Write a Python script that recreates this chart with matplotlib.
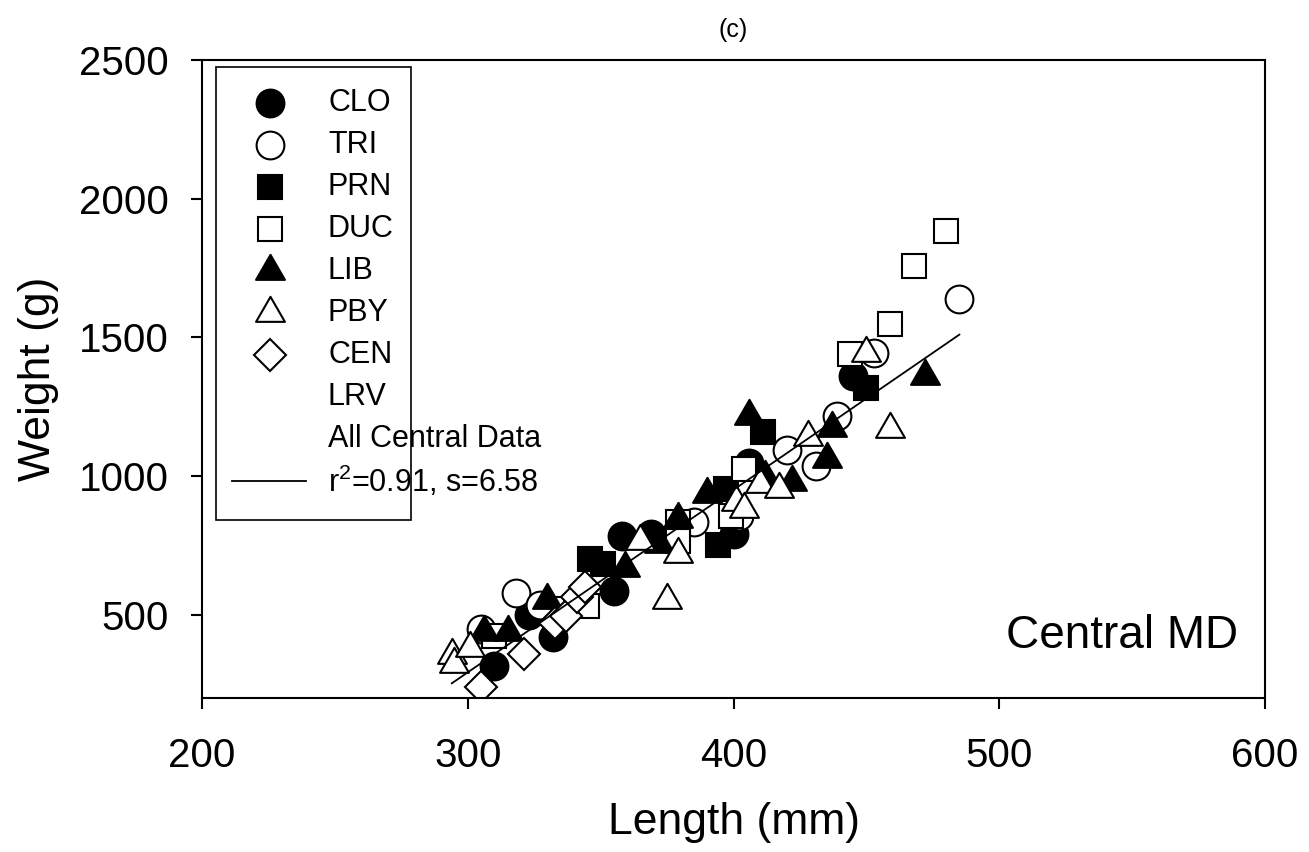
import matplotlib
matplotlib.use("Agg")
import matplotlib.pyplot as plt
from matplotlib.path import Path
from matplotlib.patches import Rectangle

plt.rcParams['font.family'] = ['Liberation Sans', 'DejaVu Sans']
plt.rcParams['mathtext.fontset'] = 'custom'
plt.rcParams['mathtext.rm'] = 'Liberation Sans'
plt.rcParams['mathtext.default'] = 'regular'

# length (mm) / weight (g) for each site
clo_len = [310, 323, 332, 355, 358, 369, 400, 406, 445]
clo_wt = [315, 500, 420, 585, 785, 791, 792, 1046, 1361]

tri_len = [305, 318, 327, 385, 402, 420, 431, 439, 453, 485]
tri_wt = [447, 579, 536, 833, 857, 1095, 1037, 1217, 1445, 1640]

prn_len = [346, 351, 394, 397, 411, 450]
prn_wt = [701, 682, 750, 953, 1160, 1319]

duc_len = [310, 336, 345, 379, 379, 399, 404, 444, 459, 468, 480]
duc_wt = [423, 522, 530, 833, 767, 857, 1025, 1439, 1547, 1757, 1882]

lib_len = [306, 315, 330, 359, 372, 379, 390, 406, 412, 422, 435, 437, 472]
lib_wt = [438, 438, 553, 670, 755, 845, 935, 1215, 995, 980, 1061, 1175, 1361]

pby_len = [294, 295, 301, 365, 375, 379, 401, 404, 410, 417, 428, 450, 459]
pby_wt = [354, 324, 380, 767, 555, 719, 906, 881, 970, 955, 1142, 1445, 1169]

cen_len = [305, 321, 333, 337, 341, 344]
cen_wt = [238, 360, 470, 495, 565, 600]

# all central data regression
fit_len = [294, 485]
fit_wt = [253, 1510]

sites = ['CLO', 'TRI', 'PRN', 'DUC', 'LIB', 'PBY', 'CEN', 'LRV', 'All Central Data']

tri_path = Path([(0, 0.577), (-0.5, -0.289), (0.5, -0.289), (0, 0.577)],
                [Path.MOVETO, Path.LINETO, Path.LINETO, Path.CLOSEPOLY])

styles = [
    dict(marker='o', ms=20, mfc='black'),
    dict(marker='o', ms=20, mfc='white'),
    dict(marker='s', ms=17.5, mfc='black'),
    dict(marker='s', ms=17.5, mfc='white'),
    dict(marker=tri_path, ms=24, mfc='black'),
    dict(marker=tri_path, ms=24, mfc='white'),
    dict(marker='D', ms=16.5, mfc='white'),
]
data = [(clo_len, clo_wt), (tri_len, tri_wt), (prn_len, prn_wt), (duc_len, duc_wt),
        (lib_len, lib_wt), (pby_len, pby_wt), (cen_len, cen_wt)]

fig = plt.figure(figsize=(13.09, 8.52), dpi=100)
ax = fig.add_axes([202 / 1309, 1 - 698 / 852, 1063 / 1309, 638 / 852])

for (x, y), st in zip(data, styles):
    ax.plot(x, y, ls='none', mec='black', mew=1.5, **st)

ax.plot(fit_len, fit_wt, color='black', lw=1.3, zorder=5)

ax.set_xlim(200, 600)
ax.set_ylim(200, 2500)
ax.set_xticks([200, 300, 400, 500, 600])
ax.set_yticks([500, 1000, 1500, 2000, 2500])
for s in ax.spines.values():
    s.set_linewidth(1.5)
ax.tick_params(direction='out', length=8, width=1.5, labelsize=29)
ax.tick_params(axis='x', pad=20)
ax.tick_params(axis='y', pad=16)

ax.set_xlabel('Length (mm)', fontsize=32, va='baseline')
ax.xaxis.set_label_coords(0.5, (698 - 834) / 638)
ax.set_ylabel('Weight (g)', fontsize=32, va='baseline')
ax.yaxis.set_label_coords((50 - 202) / 1063, 0.5)

ax.text(0.5, 1 + 30 / 638, '(c)', transform=ax.transAxes, ha='center', va='center', fontsize=18)
ax.text((1238 - 202) / 1063, 1 - (648 - 60) / 638, 'Central MD', transform=ax.transAxes,
        ha='right', va='baseline', fontsize=33)

# legend box drawn by hand
def fy(py):
    return 1 - (py - 60) / 638

ax.add_patch(Rectangle(((216 - 202) / 1063, fy(520)), (411 - 216) / 1063, fy(67) - fy(520),
                       transform=ax.transAxes, fc='white', ec='black', lw=1.2, zorder=10))
mx = (270 - 202) / 1063
tx = (328 - 202) / 1063
step = 42
rows = sites + ['r$^2$=0.91, s=6.58']
for i, label in enumerate(rows):
    yy = fy(103 + step * i)
    if i < len(styles):
        ax.plot([mx], [yy], ls='none', mec='black', mew=1.5, transform=ax.transAxes,
                clip_on=False, zorder=11, **styles[i])
    ax.text(tx, yy, label, transform=ax.transAxes, va='center', ha='left', fontsize=22, zorder=11)
ax.plot([(232 - 202) / 1063, (306 - 202) / 1063], [fy(103 + step * 9)] * 2, color='black', lw=1.3,
        transform=ax.transAxes, zorder=11)

fig.savefig('out.png', dpi=100)
